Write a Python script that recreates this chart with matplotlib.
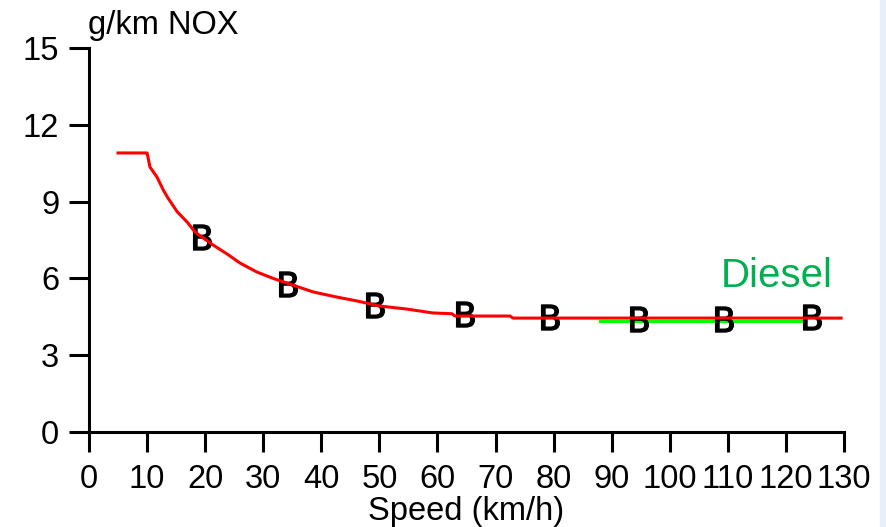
import matplotlib.pyplot as plt
from matplotlib.patches import Rectangle

# curve
speed = [5, 10, 10.5, 11.7, 12.8, 13.6, 15.2, 16.9, 18.3, 21.4, 23.8, 26, 28.9, 31.7,
         35.1, 38.6, 42.7, 46.1, 50.1, 54.8, 59.2, 62.5, 63, 72.5, 73, 129.5]
nox = [10.9, 10.9, 10.35, 9.96, 9.45, 9.14, 8.6, 8.2, 7.8, 7.3, 6.95, 6.6, 6.25, 6.0,
       5.74, 5.47, 5.27, 5.12, 4.92, 4.8, 4.65, 4.62, 4.53, 4.53, 4.45, 4.45]

# measured points
meas_speed = [19.5, 34.3, 49.3, 64.8, 79.4, 94.7, 109.4, 124.5]
meas_nox = [7.6, 5.8, 4.96, 4.6, 4.5, 4.4, 4.4, 4.5]

# diesel reference line
diesel_speed = [88, 123]
diesel_nox = [4.34, 4.34]

xticks = list(range(0, 131, 10))
yticks = [0, 3, 6, 9, 12, 15]

plt.rcParams['font.family'] = ['Liberation Sans', 'DejaVu Sans']

fig = plt.figure(figsize=(8.86, 5.27), dpi=100)
ax = fig.add_axes([89/886, 1 - 432/527, 755/886, 384/527])

ax.plot(diesel_speed, diesel_nox, color='#00ff00', lw=2.2, zorder=2)
ax.plot(meas_speed, meas_nox, ls='none', marker='$\\mathsf{B}$', markersize=18,
        color='black', markeredgewidth=1.0, zorder=3)
ax.plot(speed, nox, color='#ff0000', lw=2.2, zorder=4)

ax.text(108.7, 5.66, 'Diesel', color='#00b050', fontsize=29, va='baseline', ha='left')

ax.set_xlim(0, 130)
ax.set_ylim(0, 15)
ax.set_xticks(xticks)
ax.set_yticks(yticks)
ax.spines['top'].set_visible(False)
ax.spines['right'].set_visible(False)
for s in ['left', 'bottom']:
    ax.spines[s].set_linewidth(2.2)
ax.tick_params(axis='both', length=14.4, width=2.2, labelsize=23.5)
ax.tick_params(axis='x', pad=9)
ax.tick_params(axis='y', pad=7)

fig.text(88/886, 1 - 34/527, 'g/km NOX', fontsize=23.5, va='baseline', ha='left')
fig.text(466/886, 1 - 520/527, 'Speed (km/h)', fontsize=23.5, va='baseline', ha='center')

fig.patches.append(Rectangle((880/886, 0), 6/886, 1, transform=fig.transFigure,
                             color='#e6f0fb', zorder=0))

plt.savefig('out.png', dpi=100)
